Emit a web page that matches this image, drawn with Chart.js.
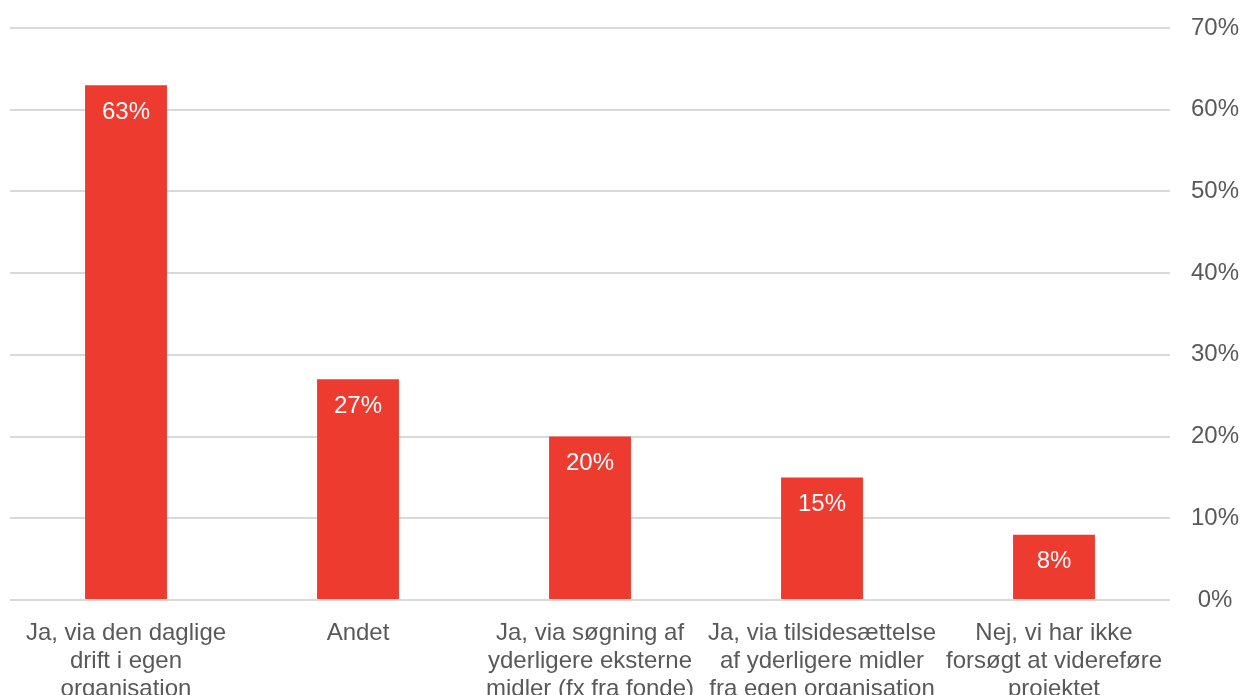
<!DOCTYPE html>
<html><head><meta charset="utf-8">
<script src="https://cdn.jsdelivr.net/npm/chart.js@4/dist/chart.umd.min.js"></script>
<style>html,body{margin:0;padding:0;background:#fff;}#wrap{width:1242px;height:695px;}</style>
</head><body><div id="wrap"><canvas id="c" width="1242" height="695"></canvas></div>
<script>
const categories = [
  ["Ja, via den daglige","drift i egen","organisation"],
  "Andet",
  ["Ja, via søgning af","yderligere eksterne","midler (fx fra fonde)"],
  ["Ja, via tilsidesættelse","af yderligere midler","fra egen organisation"],
  ["Nej, vi har ikke","forsøgt at videreføre","projektet"]
];
const values = [63, 27, 20, 15, 8];
const tickValues = [0, 10, 20, 30, 40, 50, 60, 70];

const FONT = "'Liberation Sans', Arial, sans-serif";
const labelPlugin = {
  id: 'barLabels',
  afterDatasetsDraw(chart) {
    const ctx = chart.ctx;
    const meta = chart.getDatasetMeta(0);
    ctx.save();
    ctx.font = "24px " + FONT;
    ctx.fillStyle = "#ffffff";
    ctx.textAlign = "center";
    ctx.textBaseline = "middle";
    meta.data.forEach((bar, i) => {
      ctx.fillText(values[i] + "%", bar.x, bar.y + 27);
    });
    ctx.restore();
  }
};

new Chart(document.getElementById('c'), {
  type: 'bar',
  data: {
    labels: categories,
    datasets: [{ data: values, backgroundColor: '#EE3B2F', barPercentage: 0.353, categoryPercentage: 1 }]
  },
  options: {
    responsive: false,
    animation: false,
    devicePixelRatio: 1,
    layout: { padding: { top: 28, left: 10, right: 0, bottom: 0 } },
    plugins: { legend: { display: false }, tooltip: { enabled: false } },
    scales: {
      x: {
        grid: { display: false },
        border: { display: false },
        ticks: { color: '#595959', font: { family: FONT, size: 24, lineHeight: 1.1667 }, padding: 11, maxRotation: 0, autoSkip: false },
        afterFit(s) { s.height = 95; }
      },
      y: {
        position: 'right',
        min: 0, max: 70,
        afterBuildTicks(s) { s.ticks = tickValues.map(v => ({ value: v })); },
        grid: { color: '#d9d9d9', lineWidth: 2, drawTicks: false },
        border: { display: false },
        ticks: { color: '#595959', font: { family: FONT, size: 24 }, padding: 21, crossAlign: 'center', callback: v => v + '%' },
        afterFit(s) { s.width = 72; s.paddingTop = 0; s.paddingBottom = 0; }
      }
    }
  },
  plugins: [labelPlugin]
});
</script></body></html>
